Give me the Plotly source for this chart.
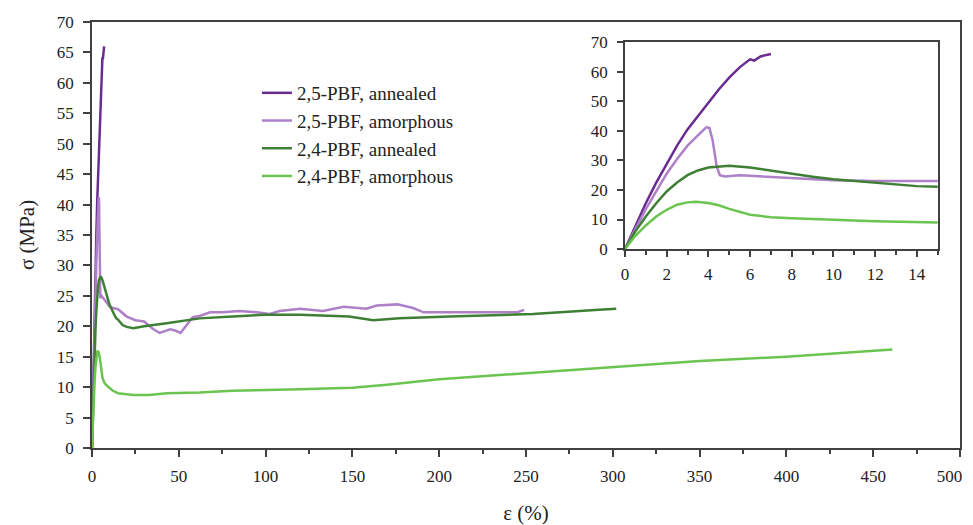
import plotly.graph_objects as go

# ---- data (strain %, stress MPa) ----
pbf25_ann_x = [0, 0.5, 1, 1.5, 2, 2.5, 3, 3.5, 4, 4.5, 5, 5.5, 6, 6.2, 6.5, 7]
pbf25_ann_y = [0, 8, 15.5, 22.5, 29, 35, 40.5, 45, 49.5, 54, 58, 61.5, 64.2, 63.8, 65.2, 66]

pbf25_amo_x = [0, 0.5, 1, 1.5, 2, 2.5, 3, 3.5, 3.9, 4.05, 4.2, 4.4, 4.55, 4.8, 5.5, 6, 8, 10, 12, 15,
               20, 25, 30, 35, 39, 42, 45, 48, 51, 54, 58, 62, 68, 75, 85, 95, 102, 108, 120, 133,
               145, 158, 164, 176, 185, 191, 200, 216, 235, 245, 249]
pbf25_amo_y = [0, 7, 13.5, 19.5, 25.5, 30.5, 35, 38.5, 41.2, 41, 37, 28, 25, 24.6, 25, 24.8, 24, 23.3, 23, 22.8,
               21.6, 21.0, 20.8, 19.6, 18.9, 19.2, 19.5, 19.3, 18.9, 20, 21.5, 21.7, 22.3, 22.3, 22.5, 22.3, 22.0, 22.5, 22.9, 22.5,
               23.2, 22.9, 23.4, 23.6, 23.0, 22.3, 22.3, 22.2, 22.3, 22.3, 22.7]

pbf24_ann_x = [0, 0.5, 1, 1.5, 2, 2.5, 3, 3.5, 4, 4.5, 5, 6, 7, 8, 9, 10, 11, 12, 13, 14, 15,
               17.6, 20, 23.8, 30, 43, 62, 81, 100, 120, 148, 162, 177, 206, 235, 254, 292, 302]
pbf24_ann_y = [0, 6, 11, 15.5, 19.5, 22.5, 25, 26.6, 27.6, 28, 28.2, 27.6, 26.5, 25.5, 24.5, 23.6, 23, 22.3, 21.8, 21.3, 21.1,
               20.2, 19.9, 19.7, 20.0, 20.5, 21.3, 21.6, 21.9, 21.9, 21.6, 21.0, 21.3, 21.6, 21.8, 22.0, 22.7, 22.9]

pbf24_amo_x = [0, 0.5, 1, 1.5, 2, 2.5, 3, 3.4, 4, 4.5, 5, 5.5, 6, 7, 8, 10, 12, 15,
               23.8, 33, 43, 62, 81, 120, 150, 170, 200, 250, 300, 350, 400, 430, 461]
pbf24_amo_y = [0, 4.5, 8, 11, 13.3, 15, 15.8, 16, 15.6, 14.8, 13.6, 12.5, 11.6, 10.8, 10.4, 9.9, 9.4, 9.0,
               8.7, 8.7, 9.0, 9.1, 9.4, 9.65, 9.9, 10.4, 11.3, 12.3, 13.3, 14.3, 15.0, 15.6, 16.2]

names = ["2,5-PBF, annealed", "2,5-PBF, amorphous", "2,4-PBF, annealed", "2,4-PBF, amorphous"]
colors = ["#6B2C91", "#AD80C8", "#3E7F35", "#6CC450"]
series = [(pbf25_ann_x, pbf25_ann_y), (pbf25_amo_x, pbf25_amo_y),
          (pbf24_ann_x, pbf24_ann_y), (pbf24_amo_x, pbf24_amo_y)]

main_xticks = list(range(0, 501, 50))
# last label padded with trailing no-break spaces so it stays inside the page edge
main_xlabels = [str(v) for v in main_xticks[:-1]] + ["500" + "\u00a0" * 5]
main_yticks = list(range(0, 71, 5))
inset_xticks = list(range(0, 15, 2))
inset_yticks = list(range(0, 71, 10))

FONT = "Liberation Serif, Times New Roman, serif"
AX = "#404040"
TXT = "#222"

fig = go.Figure()
for (xs, ys), n, c in zip(series, names, colors):
    fig.add_trace(go.Scatter(x=xs, y=ys, mode="lines", name=n,
                             line=dict(color=c, width=2.5), xaxis="x", yaxis="y"))
for (xs, ys), n, c in zip(series, names, colors):
    fig.add_trace(go.Scatter(x=xs, y=ys, mode="lines", name=n, showlegend=False,
                             line=dict(color=c, width=2.5), xaxis="x2", yaxis="y2"))

common = dict(showgrid=False, zeroline=False, showline=True, linecolor=AX, linewidth=1.5,
              mirror=True, ticks="outside", tickcolor=AX, tickwidth=1.5, automargin=False)

fig.update_layout(
    width=965, height=517,
    margin=dict(l=84, r=13, t=14, b=77),
    paper_bgcolor="white", plot_bgcolor="white",
    font=dict(family=FONT, color=TXT),
    showlegend=True,
    legend=dict(x=0.19, y=0.878, xanchor="left", yanchor="top",
                bgcolor="rgba(0,0,0,0)", font=dict(family=FONT, size=19, color=TXT),
                tracegroupgap=0),
    xaxis=dict(range=[0, 500], tickvals=main_xticks, ticktext=main_xlabels, ticklen=7,
               ticklabeloverflow="allow",
               minor=dict(dtick=25, ticklen=4, ticks="outside", tickcolor=AX, tickwidth=1.5),
               title=dict(text="ε (%)", font=dict(family=FONT, size=21, color=TXT), standoff=22),
               ticklabelstandoff=5, tickfont=dict(family=FONT, size=17, color=TXT), **common),
    yaxis=dict(range=[0, 70], tickvals=main_yticks, ticklen=7,
               title=dict(text="σ (MPa)", font=dict(family=FONT, size=21, color=TXT), standoff=16),
               ticklabelstandoff=6, tickfont=dict(family=FONT, size=17, color=TXT), **common),
    xaxis2=dict(range=[0, 15], tickvals=inset_xticks, ticklen=6, anchor="y2",
                domain=[0.614, 0.9743],
                minor=dict(dtick=1, ticklen=4, ticks="outside", tickcolor=AX, tickwidth=1.5),
                ticklabelstandoff=3, tickfont=dict(family=FONT, size=17, color=TXT), **common),
    yaxis2=dict(range=[0, 70], tickvals=inset_yticks, ticklen=6, anchor="x2",
                domain=[0.467, 0.9525],
                ticklabelstandoff=6, tickfont=dict(family=FONT, size=17, color=TXT), **common),
)

fig.write_html("out.html")
